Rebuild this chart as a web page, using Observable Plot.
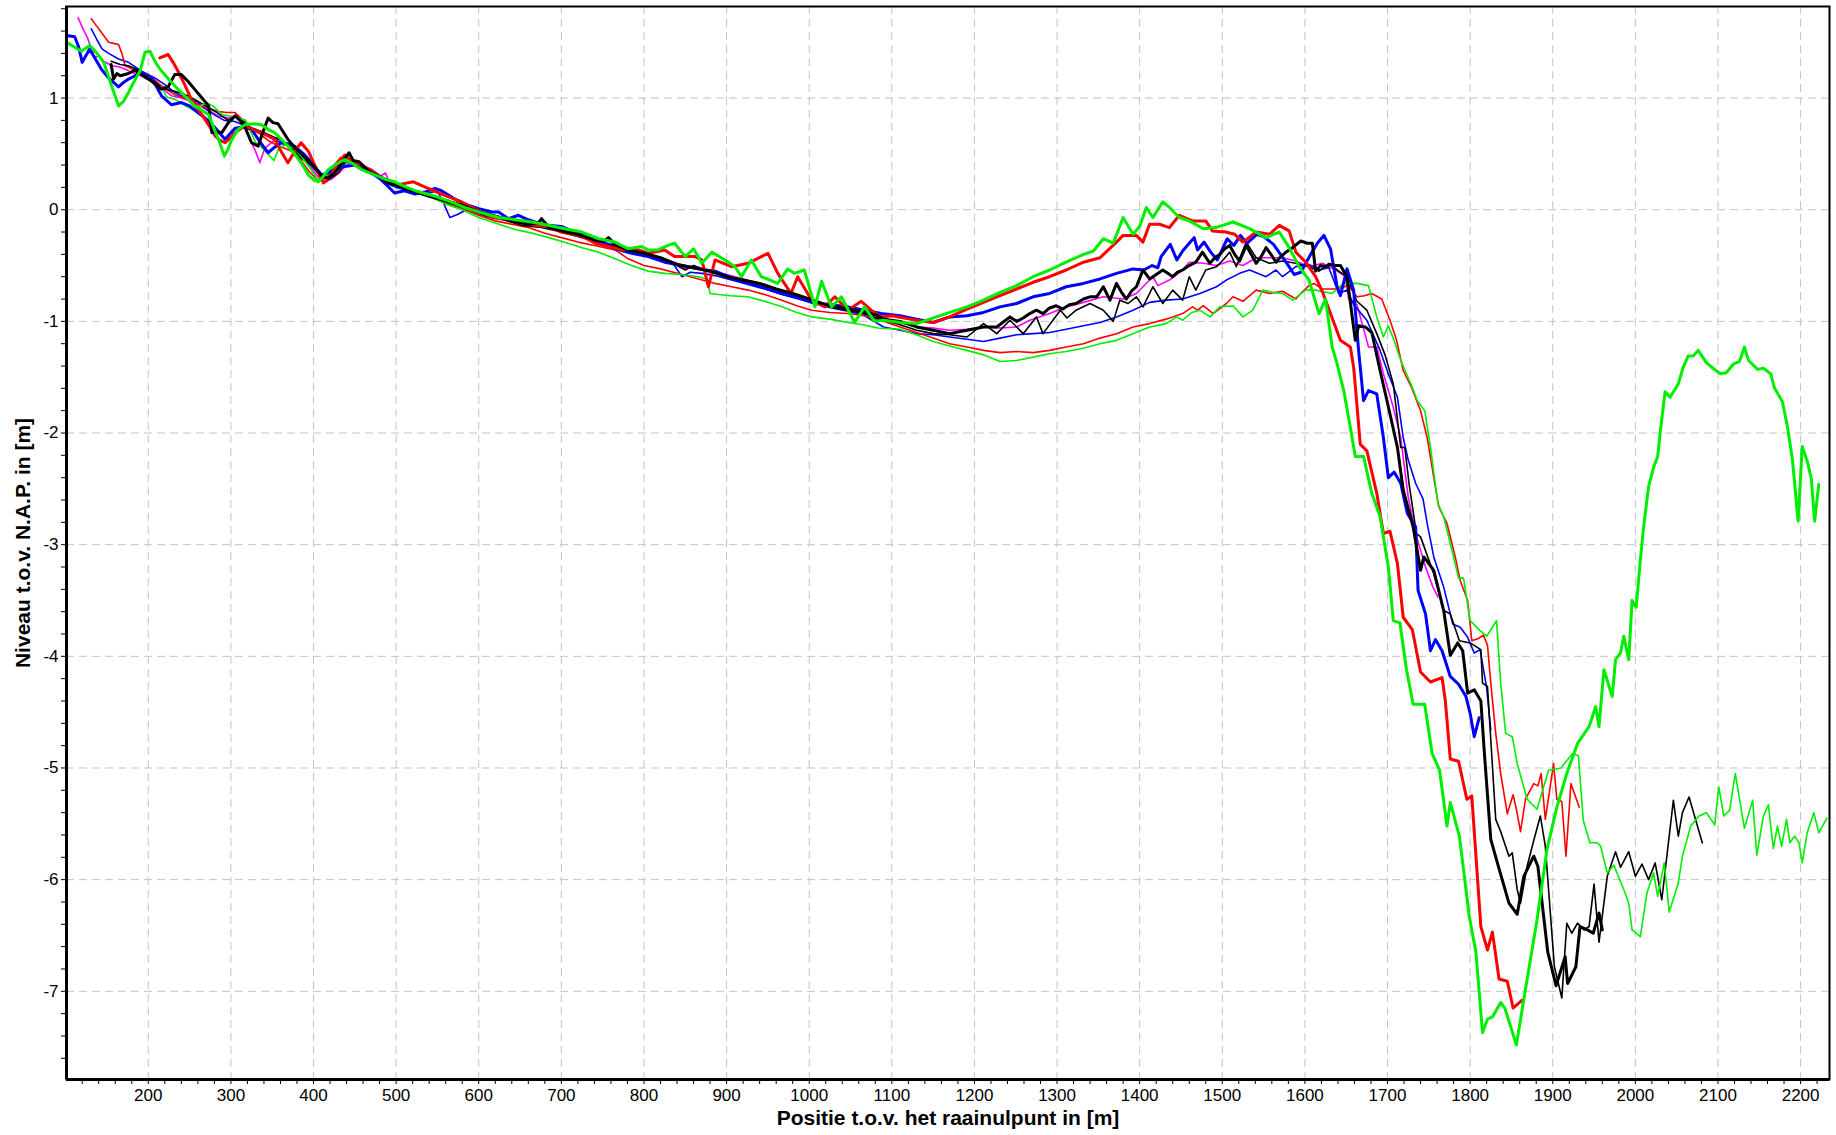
<!DOCTYPE html>
<html>
<head>
<meta charset="utf-8">
<script src="https://cdn.jsdelivr.net/npm/d3@7"></script>
<script src="https://cdn.jsdelivr.net/npm/@observablehq/plot@0.6"></script>
<style>
  html, body { margin: 0; padding: 0; background: #ffffff; }
  #chart svg { display: block; }
</style>
</head>
<body>
<div id="chart"></div>
<script>
// ---------- axis ticks ----------
const xLabelTicks = d3.range(200, 2201, 100);
const xMinorTicks = d3.range(120, 2231, 20);
const yLabelTicks = [1, 0, -1, -2, -3, -4, -5, -6, -7];
const yMinorTicks = d3.range(-38, 10).map(i => i / 5);
const xTitle = "Positie t.o.v. het raainulpunt in [m]";
const yTitle = "Niveau t.o.v. N.A.P. in [m]";

// ---------- series: [positie (m), niveau (m NAP)] ----------
const greenThick = [[101,1.50],[110,1.46],[119,1.42],[129,1.47],[138,1.40],[146,1.32],[156,1.10],[164,0.93],[170,0.97],[176,1.05],[183,1.15],[190,1.24],[196,1.41],[202,1.42],[208,1.33],[214,1.26],[222,1.19],[232,1.11],[244,1.02],[256,0.93],[265,0.89],[273,0.85],[280,0.72],[285,0.63],[292,0.48],[297,0.55],[301,0.63],[309,0.72],[317,0.76],[327,0.77],[337,0.76],[345,0.72],[353,0.69],[361,0.63],[369,0.57],[377,0.50],[385,0.42],[394,0.31],[400,0.27],[406,0.25],[412,0.30],[418,0.36],[428,0.41],[438,0.45],[448,0.41],[458,0.36],[468,0.33],[478,0.30],[488,0.27],[498,0.25],[510,0.21],[523,0.17],[543,0.13],[563,0.08],[583,0.02],[600,-0.02],[624,-0.07],[644,-0.09],[664,-0.11],[684,-0.14],[704,-0.17],[725,-0.20],[745,-0.26],[765,-0.29],[781,-0.35],[797,-0.33],[805,-0.36],[817,-0.36],[829,-0.32],[837,-0.30],[850,-0.42],[860,-0.35],[870,-0.48],[882,-0.38],[898,-0.45],[910,-0.51],[918,-0.60],[930,-0.45],[942,-0.60],[962,-0.66],[974,-0.53],[982,-0.57],[994,-0.54],[1007,-0.87],[1015,-0.64],[1027,-0.87],[1039,-0.78],[1055,-1.01],[1067,-0.87],[1079,-1.00],[1090,-0.99],[1110,-1.01],[1130,-1.02],[1154,-0.96],[1170,-0.92],[1191,-0.87],[1211,-0.81],[1231,-0.74],[1251,-0.68],[1271,-0.60],[1291,-0.54],[1311,-0.47],[1332,-0.40],[1344,-0.37],[1356,-0.26],[1368,-0.30],[1380,-0.07],[1392,-0.22],[1400,-0.15],[1408,0.02],[1416,-0.07],[1428,0.07],[1436,0.02],[1448,-0.07],[1460,-0.10],[1477,-0.17],[1492,-0.16],[1513,-0.11],[1533,-0.17],[1553,-0.25],[1569,-0.20],[1581,-0.34],[1593,-0.51],[1605,-0.63],[1617,-0.93],[1625,-0.80],[1633,-1.23],[1639,-1.38],[1647,-1.62],[1655,-1.95],[1661,-2.21],[1671,-2.21],[1681,-2.54],[1691,-2.75],[1701,-3.20],[1707,-3.68],[1715,-3.70],[1723,-4.12],[1731,-4.43],[1745,-4.43],[1754,-4.87],[1763,-5.02],[1772,-5.52],[1776,-5.31],[1787,-5.61],[1799,-6.33],[1807,-6.65],[1815,-7.37],[1821,-7.25],[1827,-7.23],[1837,-7.10],[1842,-7.15],[1856,-7.48],[1865,-7.07],[1881,-6.36],[1893,-5.73],[1905,-5.35],[1917,-5.05],[1930,-4.78],[1944,-4.63],[1952,-4.45],[1956,-4.63],[1962,-4.12],[1972,-4.36],[1976,-4.03],[1982,-3.97],[1986,-3.82],[1992,-4.03],[1996,-3.50],[2001,-3.56],[2006,-3.14],[2010,-2.84],[2016,-2.48],[2022,-2.31],[2027,-2.21],[2030,-2.00],[2036,-1.63],[2042,-1.68],[2052,-1.56],[2058,-1.41],[2064,-1.31],[2070,-1.31],[2076,-1.26],[2086,-1.37],[2094,-1.42],[2103,-1.47],[2110,-1.46],[2119,-1.38],[2126,-1.36],[2132,-1.23],[2137,-1.35],[2148,-1.43],[2155,-1.42],[2164,-1.47],[2168,-1.59],[2178,-1.72],[2184,-1.94],[2190,-2.23],[2197,-2.79],[2202,-2.12],[2208,-2.25],[2213,-2.41],[2217,-2.79],[2222,-2.46]];

const greenThin = [[216,1.10],[222,1.01],[232,0.99],[245,0.93],[255,0.89],[270,0.96],[278,0.93],[290,0.85],[305,0.83],[318,0.80],[330,0.60],[337,0.56],[345,0.50],[352,0.44],[358,0.55],[365,0.58],[375,0.56],[385,0.48],[395,0.38],[405,0.27],[415,0.30],[425,0.38],[435,0.43],[445,0.43],[455,0.39],[465,0.35],[478,0.30],[490,0.25],[500,0.22],[520,0.17],[540,0.12],[560,0.05],[580,0.00],[600,-0.07],[620,-0.12],[645,-0.18],[665,-0.21],[685,-0.25],[708,-0.30],[725,-0.34],[745,-0.38],[765,-0.44],[785,-0.50],[805,-0.55],[825,-0.57],[845,-0.58],[866,-0.60],[876,-0.62],[880,-0.75],[890,-0.76],[905,-0.77],[926,-0.78],[946,-0.82],[967,-0.87],[985,-0.92],[1003,-0.96],[1025,-0.98],[1047,-1.01],[1065,-1.03],[1083,-1.06],[1110,-1.07],[1130,-1.12],[1150,-1.18],[1170,-1.22],[1191,-1.26],[1211,-1.30],[1231,-1.36],[1251,-1.35],[1271,-1.32],[1291,-1.29],[1311,-1.27],[1332,-1.24],[1352,-1.20],[1372,-1.17],[1392,-1.11],[1412,-1.05],[1432,-1.02],[1445,-0.96],[1452,-0.99],[1463,-0.92],[1473,-0.90],[1485,-0.96],[1497,-0.87],[1513,-0.86],[1525,-0.96],[1537,-0.90],[1549,-0.72],[1561,-0.74],[1573,-0.75],[1585,-0.81],[1601,-0.72],[1613,-0.72],[1633,-0.75],[1647,-0.66],[1663,-0.66],[1677,-0.68],[1687,-0.96],[1695,-1.14],[1701,-1.04],[1708,-1.17],[1716,-1.35],[1730,-1.59],[1736,-1.71],[1745,-1.80],[1752,-2.13],[1761,-2.63],[1768,-2.75],[1780,-3.11],[1786,-3.30],[1792,-3.30],[1800,-3.68],[1812,-3.77],[1820,-3.82],[1832,-3.68],[1837,-4.24],[1843,-4.69],[1851,-4.72],[1857,-4.96],[1869,-5.28],[1881,-5.37],[1895,-5.02],[1910,-5.00],[1924,-4.87],[1931,-4.89],[1937,-5.47],[1945,-5.67],[1954,-5.67],[1958,-5.70],[1966,-5.94],[1974,-5.87],[1986,-6.09],[1992,-6.21],[1996,-6.45],[2006,-6.51],[2014,-6.12],[2022,-5.94],[2027,-6.15],[2035,-5.85],[2041,-6.29],[2052,-6.03],[2057,-5.79],[2067,-5.52],[2077,-5.43],[2086,-5.40],[2096,-5.51],[2101,-5.17],[2107,-5.43],[2114,-5.38],[2121,-5.05],[2132,-5.54],[2142,-5.29],[2147,-5.78],[2155,-5.43],[2161,-5.33],[2167,-5.72],[2172,-5.52],[2177,-5.70],[2183,-5.46],[2187,-5.67],[2193,-5.61],[2198,-5.67],[2202,-5.85],[2208,-5.58],[2216,-5.40],[2222,-5.58],[2232,-5.45]];

const redThick = [[214,1.36],[224,1.39],[230,1.32],[236,1.24],[244,1.12],[252,0.99],[258,0.92],[265,0.85],[273,0.76],[281,0.66],[287,0.62],[293,0.60],[299,0.64],[305,0.69],[311,0.72],[317,0.75],[327,0.72],[337,0.69],[345,0.66],[353,0.63],[361,0.52],[369,0.42],[377,0.52],[385,0.60],[394,0.52],[402,0.39],[412,0.24],[418,0.27],[426,0.37],[438,0.49],[448,0.42],[458,0.40],[470,0.35],[480,0.30],[490,0.26],[500,0.22],[521,0.25],[527,0.23],[539,0.19],[555,0.14],[579,0.07],[600,-0.01],[616,-0.07],[636,-0.09],[652,-0.12],[668,-0.14],[684,-0.15],[700,-0.20],[725,-0.24],[741,-0.30],[757,-0.33],[773,-0.36],[789,-0.35],[805,-0.39],[825,-0.36],[837,-0.42],[846,-0.42],[862,-0.42],[870,-0.45],[878,-0.69],[886,-0.45],[906,-0.51],[926,-0.48],[950,-0.39],[962,-0.57],[978,-0.75],[986,-0.60],[1003,-0.81],[1019,-0.87],[1031,-0.78],[1047,-0.90],[1063,-0.82],[1075,-0.90],[1087,-0.96],[1100,-0.95],[1130,-0.99],[1150,-1.01],[1170,-0.96],[1191,-0.89],[1211,-0.83],[1231,-0.77],[1251,-0.71],[1271,-0.65],[1291,-0.60],[1311,-0.54],[1332,-0.47],[1352,-0.43],[1362,-0.36],[1372,-0.29],[1380,-0.23],[1396,-0.23],[1404,-0.29],[1412,-0.13],[1424,-0.13],[1436,-0.16],[1448,-0.05],[1464,-0.10],[1480,-0.10],[1488,-0.19],[1504,-0.20],[1515,-0.22],[1525,-0.29],[1541,-0.20],[1557,-0.22],[1569,-0.14],[1581,-0.19],[1589,-0.38],[1601,-0.47],[1613,-0.60],[1622,-0.75],[1634,-0.99],[1643,-1.17],[1655,-1.23],[1659,-1.41],[1663,-1.75],[1667,-2.10],[1675,-2.16],[1687,-2.54],[1695,-2.90],[1703,-2.88],[1712,-3.17],[1719,-3.65],[1730,-3.76],[1740,-4.14],[1752,-4.23],[1766,-4.19],[1770,-4.40],[1776,-4.92],[1786,-4.94],[1796,-5.28],[1802,-5.25],[1813,-6.42],[1821,-6.63],[1827,-6.47],[1835,-6.89],[1845,-6.91],[1852,-7.15],[1863,-7.08]];

const redThin = [[131,1.71],[136,1.66],[140,1.62],[146,1.56],[152,1.50],[158,1.49],[164,1.48],[168,1.40],[172,1.29],[178,1.27],[184,1.24],[192,1.22],[200,1.21],[208,1.16],[216,1.11],[224,1.07],[232,1.03],[240,1.01],[248,0.99],[256,0.96],[265,0.93],[275,0.90],[285,0.88],[295,0.87],[305,0.87],[315,0.80],[325,0.72],[335,0.68],[345,0.62],[355,0.58],[365,0.55],[375,0.52],[385,0.44],[395,0.34],[405,0.27],[415,0.28],[425,0.40],[433,0.47],[440,0.45],[450,0.42],[460,0.39],[470,0.35],[480,0.29],[490,0.25],[500,0.22],[520,0.17],[540,0.12],[560,0.06],[580,0.01],[600,-0.05],[620,-0.10],[640,-0.13],[660,-0.16],[680,-0.21],[700,-0.25],[720,-0.29],[740,-0.32],[765,-0.36],[781,-0.44],[800,-0.50],[820,-0.53],[846,-0.58],[866,-0.62],[886,-0.66],[906,-0.69],[926,-0.72],[946,-0.76],[967,-0.81],[985,-0.86],[1003,-0.90],[1025,-0.92],[1047,-0.93],[1067,-0.95],[1090,-1.00],[1110,-1.05],[1130,-1.10],[1150,-1.15],[1170,-1.20],[1191,-1.23],[1211,-1.26],[1231,-1.28],[1251,-1.27],[1271,-1.28],[1291,-1.26],[1311,-1.23],[1332,-1.20],[1352,-1.15],[1372,-1.11],[1392,-1.05],[1412,-1.02],[1432,-0.98],[1452,-0.93],[1464,-0.87],[1470,-0.90],[1477,-0.86],[1489,-0.93],[1505,-0.84],[1513,-0.78],[1525,-0.82],[1541,-0.72],[1557,-0.75],[1573,-0.73],[1589,-0.80],[1595,-0.75],[1605,-0.68],[1611,-0.66],[1621,-0.71],[1637,-0.71],[1653,-0.68],[1663,-0.78],[1672,-0.77],[1681,-0.75],[1693,-0.80],[1703,-0.99],[1711,-1.17],[1719,-1.44],[1729,-1.59],[1740,-1.80],[1748,-2.04],[1756,-2.40],[1762,-2.66],[1772,-2.81],[1782,-3.11],[1788,-3.32],[1797,-3.50],[1802,-3.86],[1810,-3.84],[1816,-3.81],[1821,-3.90],[1825,-4.24],[1831,-4.69],[1837,-5.05],[1845,-5.41],[1852,-5.24],[1856,-5.37],[1861,-5.57],[1867,-5.28],[1877,-5.14],[1882,-5.16],[1886,-5.05],[1891,-5.46],[1901,-4.96],[1905,-5.28],[1911,-5.30],[1916,-5.79],[1922,-5.14],[1932,-5.35]];

const blueThick = [[101,1.56],[111,1.55],[116,1.45],[120,1.32],[129,1.44],[136,1.35],[144,1.25],[152,1.18],[164,1.10],[170,1.14],[176,1.17],[184,1.20],[192,1.23],[204,1.18],[210,1.10],[216,1.02],[228,0.94],[240,0.96],[250,0.93],[260,0.87],[269,0.82],[280,0.74],[287,0.68],[293,0.63],[299,0.68],[305,0.73],[315,0.74],[325,0.72],[335,0.61],[345,0.51],[353,0.56],[361,0.60],[369,0.59],[377,0.57],[388,0.50],[398,0.42],[404,0.36],[410,0.31],[420,0.34],[430,0.37],[440,0.39],[450,0.40],[460,0.37],[470,0.33],[480,0.28],[490,0.21],[498,0.15],[510,0.17],[523,0.14],[535,0.16],[547,0.19],[555,0.17],[570,0.10],[587,0.04],[600,0.01],[616,-0.02],[624,-0.02],[636,-0.08],[648,-0.05],[660,-0.09],[672,-0.12],[684,-0.14],[700,-0.15],[716,-0.20],[733,-0.24],[749,-0.30],[765,-0.35],[785,-0.39],[805,-0.42],[825,-0.47],[846,-0.50],[866,-0.53],[886,-0.55],[906,-0.61],[926,-0.66],[946,-0.70],[967,-0.75],[987,-0.79],[1007,-0.84],[1027,-0.85],[1047,-0.87],[1067,-0.90],[1087,-0.93],[1110,-0.95],[1130,-0.98],[1150,-1.01],[1170,-0.96],[1191,-0.95],[1211,-0.92],[1231,-0.87],[1251,-0.84],[1271,-0.78],[1291,-0.75],[1311,-0.69],[1332,-0.66],[1352,-0.62],[1372,-0.57],[1392,-0.53],[1405,-0.54],[1415,-0.50],[1422,-0.52],[1426,-0.42],[1437,-0.31],[1445,-0.45],[1453,-0.36],[1460,-0.30],[1466,-0.25],[1470,-0.36],[1478,-0.29],[1486,-0.38],[1494,-0.45],[1506,-0.26],[1514,-0.32],[1522,-0.23],[1530,-0.30],[1542,-0.22],[1550,-0.24],[1562,-0.31],[1579,-0.49],[1587,-0.58],[1595,-0.56],[1607,-0.40],[1615,-0.30],[1623,-0.23],[1631,-0.35],[1639,-0.69],[1643,-0.77],[1651,-0.53],[1659,-0.72],[1665,-1.26],[1671,-1.71],[1677,-1.62],[1687,-1.65],[1695,-2.04],[1701,-2.40],[1708,-2.35],[1716,-2.45],[1724,-2.72],[1734,-2.84],[1737,-3.41],[1746,-3.62],[1752,-3.95],[1758,-3.85],[1766,-3.95],[1776,-4.18],[1786,-4.25],[1795,-4.36],[1800,-4.51],[1805,-4.72],[1811,-4.55]];

const blueThin = [[131,1.62],[138,1.52],[144,1.44],[152,1.40],[164,1.35],[176,1.32],[192,1.24],[208,1.18],[220,1.12],[232,1.05],[245,1.00],[258,0.97],[270,0.90],[282,0.84],[292,0.80],[305,0.79],[318,0.75],[330,0.72],[342,0.67],[355,0.62],[367,0.58],[380,0.52],[392,0.44],[404,0.34],[414,0.29],[424,0.34],[436,0.42],[446,0.43],[456,0.38],[466,0.34],[478,0.29],[490,0.23],[500,0.20],[520,0.16],[540,0.15],[550,0.17],[558,0.05],[565,-0.07],[575,-0.04],[590,0.02],[605,-0.02],[625,-0.06],[645,-0.10],[665,-0.13],[685,-0.16],[705,-0.19],[725,-0.23],[745,-0.28],[765,-0.32],[785,-0.37],[805,-0.41],[825,-0.45],[835,-0.48],[846,-0.60],[856,-0.56],[870,-0.57],[886,-0.59],[906,-0.63],[926,-0.67],[946,-0.71],[967,-0.76],[987,-0.80],[1007,-0.84],[1027,-0.88],[1047,-0.91],[1067,-0.95],[1090,-1.05],[1110,-1.08],[1130,-1.11],[1150,-1.12],[1170,-1.14],[1191,-1.16],[1211,-1.18],[1231,-1.15],[1251,-1.12],[1271,-1.11],[1291,-1.10],[1311,-1.07],[1332,-1.04],[1352,-1.01],[1372,-0.96],[1392,-0.90],[1412,-0.83],[1432,-0.81],[1452,-0.80],[1473,-0.75],[1493,-0.69],[1505,-0.63],[1521,-0.57],[1533,-0.54],[1553,-0.60],[1565,-0.54],[1573,-0.60],[1589,-0.51],[1605,-0.49],[1617,-0.54],[1629,-0.52],[1641,-0.75],[1651,-0.72],[1659,-0.85],[1675,-0.99],[1691,-1.26],[1700,-1.45],[1712,-1.68],[1719,-2.04],[1725,-2.24],[1734,-2.45],[1743,-2.59],[1748,-2.81],[1756,-3.11],[1768,-3.38],[1779,-3.71],[1788,-3.74],[1797,-3.83],[1805,-3.97],[1812,-3.94],[1820,-4.28],[1825,-4.66]];

const magentaThin = [[115,1.72],[121,1.62],[127,1.53],[131,1.44],[135,1.36],[140,1.38],[146,1.33],[156,1.29],[164,1.28],[172,1.26],[180,1.23],[188,1.21],[198,1.17],[208,1.14],[218,1.08],[228,1.02],[240,1.00],[252,0.97],[262,0.93],[273,0.89],[285,0.84],[297,0.82],[305,0.84],[315,0.78],[325,0.60],[330,0.52],[335,0.42],[341,0.55],[349,0.60],[357,0.65],[365,0.60],[375,0.55],[385,0.47],[395,0.40],[405,0.30],[413,0.26],[421,0.27],[431,0.33],[441,0.41],[451,0.42],[461,0.39],[471,0.36],[481,0.30],[487,0.33],[491,0.26],[500,0.23],[520,0.16],[540,0.12],[560,0.07],[580,0.02],[600,-0.04],[620,-0.07],[640,-0.11],[660,-0.13],[680,-0.15],[700,-0.19],[720,-0.22],[740,-0.27],[760,-0.31],[780,-0.36],[800,-0.40],[820,-0.44],[840,-0.48],[850,-0.53],[860,-0.50],[880,-0.55],[900,-0.58],[920,-0.62],[940,-0.66],[960,-0.71],[980,-0.75],[1000,-0.80],[1020,-0.85],[1040,-0.88],[1060,-0.92],[1080,-0.95],[1100,-0.99],[1130,-1.05],[1150,-1.06],[1170,-1.08],[1191,-1.07],[1211,-1.05],[1231,-1.06],[1251,-1.05],[1267,-0.99],[1291,-0.93],[1311,-0.87],[1332,-0.83],[1356,-0.78],[1380,-0.80],[1396,-0.75],[1404,-0.69],[1416,-0.60],[1422,-0.68],[1436,-0.63],[1452,-0.54],[1460,-0.47],[1477,-0.48],[1493,-0.50],[1509,-0.46],[1525,-0.50],[1541,-0.43],[1557,-0.43],[1573,-0.43],[1589,-0.46],[1605,-0.51],[1621,-0.48],[1637,-0.54],[1649,-0.60],[1653,-0.80],[1663,-0.85],[1677,-1.23],[1687,-1.23],[1695,-1.47],[1707,-1.77],[1716,-2.04],[1725,-2.57],[1734,-2.90],[1746,-3.20],[1755,-3.38],[1761,-3.47]];

const blackThick = [[155,1.30],[158,1.17],[162,1.22],[166,1.20],[176,1.22],[184,1.25],[192,1.21],[204,1.15],[216,1.08],[224,1.10],[232,1.21],[240,1.21],[248,1.15],[256,1.08],[265,1.00],[273,0.93],[277,0.69],[283,0.70],[289,0.69],[297,0.78],[305,0.84],[311,0.80],[317,0.74],[325,0.60],[333,0.57],[339,0.70],[345,0.82],[351,0.78],[357,0.77],[363,0.70],[369,0.63],[377,0.56],[385,0.50],[394,0.44],[402,0.38],[410,0.30],[418,0.28],[428,0.35],[438,0.46],[443,0.51],[448,0.44],[455,0.43],[462,0.38],[470,0.33],[480,0.30],[490,0.24],[500,0.22],[520,0.17],[540,0.12],[560,0.08],[580,0.04],[600,-0.02],[620,-0.06],[640,-0.10],[660,-0.13],[672,-0.12],[676,-0.08],[684,-0.15],[700,-0.19],[720,-0.22],[740,-0.27],[752,-0.28],[757,-0.25],[765,-0.31],[780,-0.36],[800,-0.39],[820,-0.43],[840,-0.49],[860,-0.52],[880,-0.55],[900,-0.60],[920,-0.63],[940,-0.66],[960,-0.71],[980,-0.75],[1000,-0.80],[1020,-0.85],[1040,-0.88],[1060,-0.91],[1080,-0.94],[1090,-0.98],[1110,-1.00],[1130,-1.05],[1150,-1.08],[1170,-1.11],[1191,-1.08],[1211,-1.05],[1227,-1.05],[1243,-0.96],[1251,-1.00],[1259,-0.97],[1267,-0.93],[1275,-0.90],[1283,-0.93],[1291,-0.88],[1299,-0.86],[1307,-0.89],[1315,-0.85],[1323,-0.84],[1332,-0.80],[1340,-0.78],[1348,-0.78],[1356,-0.69],[1364,-0.81],[1372,-0.66],[1378,-0.74],[1384,-0.80],[1390,-0.73],[1396,-0.69],[1404,-0.54],[1412,-0.62],[1420,-0.58],[1428,-0.54],[1434,-0.57],[1440,-0.60],[1446,-0.56],[1452,-0.54],[1460,-0.50],[1468,-0.47],[1476,-0.38],[1485,-0.48],[1491,-0.43],[1497,-0.40],[1503,-0.35],[1509,-0.32],[1515,-0.40],[1521,-0.46],[1529,-0.32],[1535,-0.40],[1541,-0.48],[1547,-0.42],[1553,-0.34],[1559,-0.40],[1565,-0.47],[1571,-0.42],[1577,-0.38],[1585,-0.34],[1595,-0.28],[1603,-0.30],[1609,-0.30],[1613,-0.55],[1619,-0.50],[1625,-0.51],[1631,-0.49],[1637,-0.50],[1643,-0.50],[1647,-0.55],[1651,-0.60],[1661,-1.17],[1665,-1.04],[1673,-1.05],[1681,-1.10],[1691,-1.44],[1703,-1.83],[1712,-2.13],[1719,-2.51],[1731,-2.84],[1740,-3.23],[1744,-3.11],[1756,-3.23],[1768,-3.59],[1776,-3.99],[1785,-3.88],[1791,-3.95],[1797,-4.33],[1805,-4.30],[1813,-4.40],[1817,-4.84],[1825,-5.64],[1833,-5.85],[1847,-6.21],[1857,-6.31],[1865,-5.97],[1877,-5.79],[1882,-5.88],[1894,-6.65],[1904,-6.95],[1915,-6.69],[1918,-6.93],[1928,-6.78],[1933,-6.42],[1942,-6.45],[1949,-6.48],[1956,-6.30],[1960,-6.45]];

const blackThin = [[155,1.33],[166,1.30],[176,1.29],[188,1.25],[200,1.20],[216,1.09],[232,1.06],[248,1.02],[265,0.95],[281,0.88],[297,0.80],[305,0.84],[313,0.80],[325,0.73],[337,0.70],[349,0.66],[361,0.62],[373,0.56],[385,0.46],[398,0.40],[410,0.30],[418,0.27],[430,0.33],[441,0.45],[450,0.41],[460,0.38],[472,0.33],[485,0.27],[500,0.22],[520,0.16],[545,0.11],[565,0.06],[590,0.00],[610,-0.06],[630,-0.09],[652,-0.14],[676,-0.16],[700,-0.20],[725,-0.25],[745,-0.29],[765,-0.33],[785,-0.37],[805,-0.42],[825,-0.46],[840,-0.50],[850,-0.54],[860,-0.50],[875,-0.55],[890,-0.57],[905,-0.60],[925,-0.64],[945,-0.69],[965,-0.73],[985,-0.77],[1005,-0.82],[1025,-0.87],[1045,-0.90],[1065,-0.93],[1090,-0.99],[1110,-1.03],[1130,-1.08],[1150,-1.11],[1170,-1.12],[1191,-1.14],[1211,-1.02],[1227,-1.11],[1243,-0.99],[1259,-1.11],[1275,-0.96],[1283,-1.11],[1304,-0.90],[1312,-0.97],[1323,-0.90],[1340,-0.84],[1356,-0.90],[1368,-1.00],[1376,-0.81],[1386,-0.84],[1396,-0.78],[1404,-0.87],[1416,-0.69],[1428,-0.84],[1440,-0.72],[1452,-0.81],[1460,-0.60],[1468,-0.72],[1480,-0.54],[1493,-0.51],[1501,-0.45],[1509,-0.38],[1517,-0.51],[1529,-0.29],[1541,-0.43],[1557,-0.48],[1573,-0.46],[1589,-0.48],[1605,-0.51],[1617,-0.55],[1629,-0.48],[1641,-0.55],[1651,-0.60],[1663,-0.82],[1675,-0.90],[1687,-1.11],[1697,-1.30],[1707,-1.56],[1716,-2.13],[1721,-2.13],[1726,-2.45],[1735,-2.90],[1740,-2.93],[1756,-3.26],[1768,-3.59],[1776,-3.62],[1787,-3.86],[1800,-3.88],[1813,-3.94],[1815,-4.24],[1821,-4.27],[1831,-5.46],[1837,-5.57],[1847,-5.79],[1851,-5.76],[1857,-6.09],[1861,-6.21],[1869,-5.88],[1877,-5.65],[1885,-5.43],[1891,-5.70],[1902,-6.78],[1911,-7.06],[1917,-6.39],[1923,-6.48],[1930,-6.39],[1938,-6.45],[1944,-6.42],[1950,-6.04],[1956,-6.56],[1966,-5.97],[1976,-5.75],[1982,-5.89],[1992,-5.75],[2000,-5.97],[2008,-5.86],[2016,-6.00],[2024,-5.85],[2032,-6.18],[2046,-5.29],[2052,-5.61],[2057,-5.40],[2065,-5.26],[2081,-5.67]];

// ---------- drawing order and styling ----------
const layers = [
  {data: magentaThin, color: "#ff00ff", w: 1.6},
  {data: blueThin,    color: "#0000ff", w: 1.6},
  {data: redThin,     color: "#ff0000", w: 1.6},
  {data: blackThin,   color: "#000000", w: 1.6},
  {data: greenThin,   color: "#00ee00", w: 1.6},
  {data: blueThick,   color: "#0000ff", w: 3},
  {data: redThick,    color: "#ff0000", w: 3},
  {data: blackThick,  color: "#000000", w: 3},
  {data: greenThick,  color: "#00ee00", w: 3}
];

const xDomain = [101, 2235];
const yDomain = [-7.79, 1.82];
const fmtInt = d => Math.abs(d - Math.round(d)) < 1e-6 ? String(Math.round(d)) : "";

const plot = Plot.plot({
  width: 1836,
  height: 1135,
  marginLeft: 66,
  marginRight: 7,
  marginTop: 6,
  marginBottom: 56,
  style: {fontFamily: "'Liberation Sans', Arial, sans-serif", fontSize: "17px", color: "#000", background: "#fff"},
  x: {domain: xDomain},
  y: {domain: yDomain},
  marks: [
    Plot.gridX(xLabelTicks, {stroke: "#c4c4c4", strokeOpacity: 1, strokeDasharray: "8,5", strokeWidth: 1}),
    Plot.gridY(yLabelTicks, {stroke: "#c4c4c4", strokeOpacity: 1, strokeDasharray: "8,5", strokeWidth: 1}),
    ...layers.map(l => Plot.line(l.data, {
      x: d => d[0], y: d => d[1], stroke: l.color, strokeWidth: l.w,
      strokeLinejoin: "round", strokeLinecap: "round"
    })),
    Plot.frame({stroke: "#000", strokeWidth: 2}),
    Plot.ruleX([xDomain[0]], {stroke: "#000", strokeWidth: 3}),
    Plot.ruleY([yDomain[0]], {stroke: "#000", strokeWidth: 3}),
    Plot.axisX(xMinorTicks, {tickSize: 5, tickPadding: 4, tickFormat: d => (d % 100 === 0 ? String(d) : ""), fontSize: 17, label: null}),
    Plot.axisY(yMinorTicks, {tickSize: 5, tickPadding: 3, tickFormat: fmtInt, fontSize: 17, label: null}),
    Plot.text([xTitle], {text: d => d, frameAnchor: "bottom", textAnchor: "middle", dy: 45, fontSize: 21, fontWeight: "bold"}),
    Plot.text([yTitle], {text: d => d, frameAnchor: "left", textAnchor: "middle", dx: -43, rotate: -90, fontSize: 21, fontWeight: "bold"})
  ]
});
document.getElementById("chart").appendChild(plot);
</script>
</body>
</html>
